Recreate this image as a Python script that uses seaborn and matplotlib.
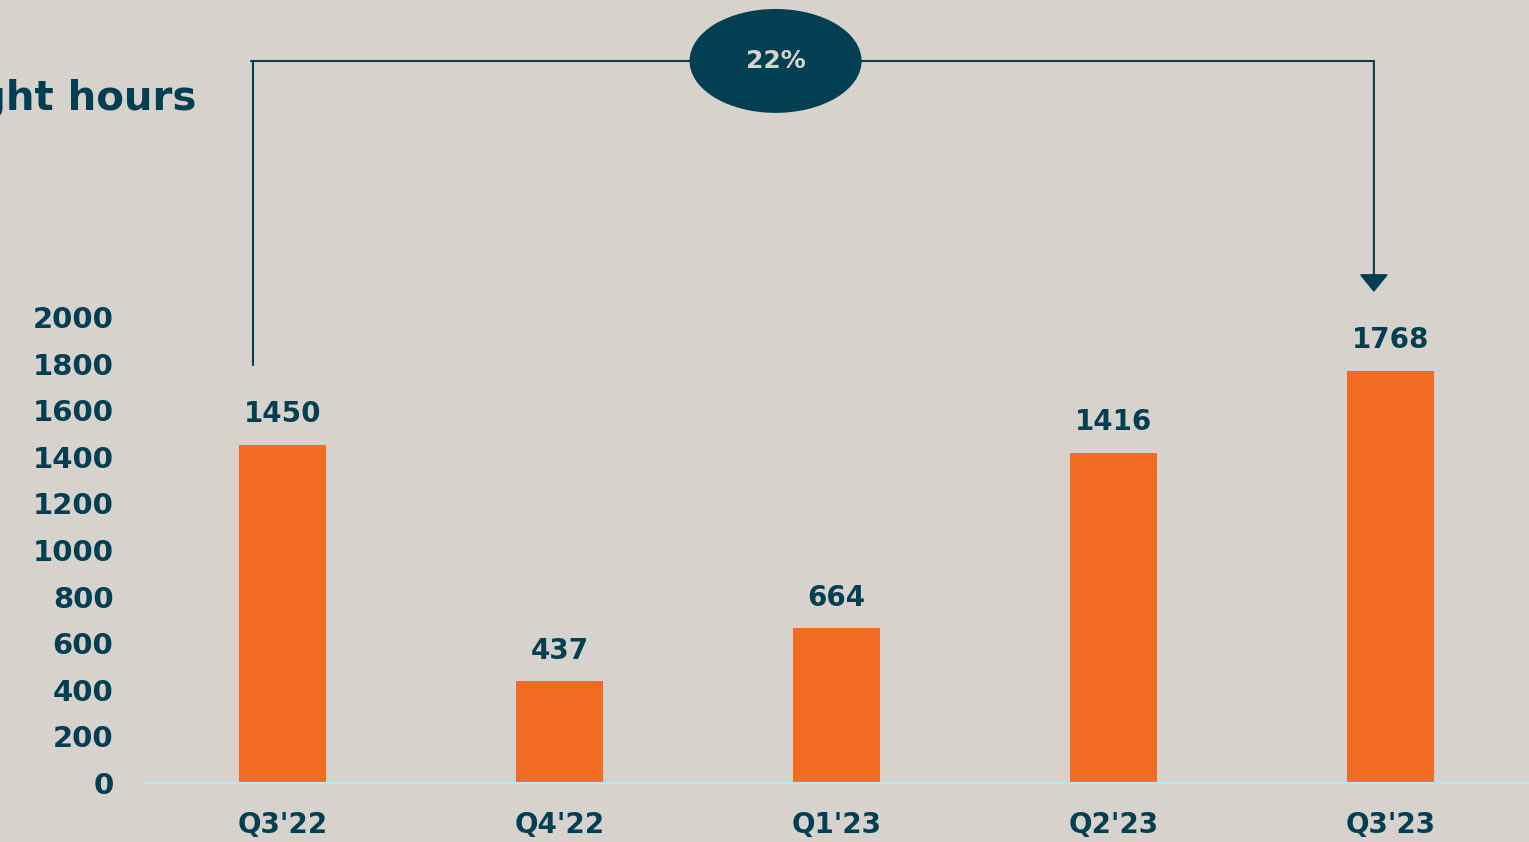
import matplotlib
matplotlib.use("Agg")
import matplotlib.pyplot as plt
from matplotlib.patches import Ellipse
import seaborn as sns
import pandas as pd

quarters = ["Q3'22", "Q4'22", "Q1'23", "Q2'23", "Q3'23"]
hours = [1450, 437, 664, 1416, 1768]
yticks = [0, 200, 400, 600, 800, 1000, 1200, 1400, 1600, 1800, 2000]
growth_label = "22%"
title = "Flight hours"

bg = "#d7d2cc"
navy = "#033f52"
orange = "#f26b23"

sns.set_theme(style="white")
plt.rcParams["font.family"] = ["DejaVu Sans"]

df = pd.DataFrame({"quarter": quarters, "hours": hours})

fig = plt.figure(figsize=(15.29, 8.42), dpi=100, facecolor=bg)
ax = fig.add_axes([144 / 1529, 59 / 842, 1385 / 1529, 783 / 842])
ax.set_facecolor(bg)

sns.barplot(data=df, x="quarter", y="hours", color=orange, width=0.314,
            saturation=1, linewidth=0, ax=ax)

ax.set_xlim(-0.5, 4.5)
ax.set_ylim(0, 3360.5)
ax.set_yticks(yticks)
ax.set_xlabel("")
ax.set_ylabel("")
for s in ["top", "right", "left"]:
    ax.spines[s].set_visible(False)
ax.spines["bottom"].set_color("#bfe3ea")
ax.spines["bottom"].set_linewidth(1.6)
ax.tick_params(axis="y", length=0, pad=22, labelsize=21, labelcolor=navy)
ax.tick_params(axis="x", length=0, pad=20, labelsize=20, labelcolor=navy)
for lab in ax.get_yticklabels() + ax.get_xticklabels():
    lab.set_fontweight("bold")

ax.bar_label(ax.containers[0], labels=[str(v) for v in hours], padding=12,
             fontsize=20, fontweight="bold", color=navy)

# bracket from first to last quarter
y_top = 3099
ax.plot([-0.115, 3.94], [y_top, y_top], color=navy, lw=1.5, clip_on=False, zorder=3)
ax.plot([-0.108, -0.108], [y_top, 1794], color=navy, lw=1.5, clip_on=False, zorder=3)
ax.annotate("", xy=(3.94, 2107), xytext=(3.94, y_top),
            arrowprops=dict(arrowstyle="-|>,head_length=0.55,head_width=0.45",
                            color=navy, lw=1.5, shrinkA=0, shrinkB=0,
                            mutation_scale=20),
            annotation_clip=False, zorder=3)
ax.add_patch(Ellipse((1.78, y_top), 0.621, 446, facecolor=navy, edgecolor="none",
                     clip_on=False, zorder=5))
ax.text(1.78, y_top, growth_label, ha="center", va="center", fontsize=18,
        fontweight="bold", color=bg, zorder=6, clip_on=False)

fig.text(196 / 1529, 1 - 110 / 842, title, ha="right", va="baseline",
         fontsize=29, fontweight="bold", color=navy)

fig.savefig("out.png", dpi=100, facecolor=bg)
